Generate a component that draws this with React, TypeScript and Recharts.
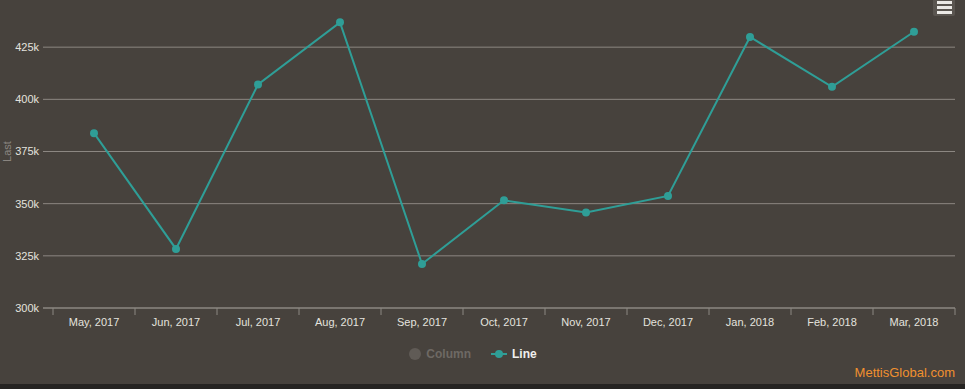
import { ComposedChart, Line, XAxis, YAxis, CartesianGrid, Legend } from 'recharts';

const months = ['May, 2017', 'Jun, 2017', 'Jul, 2017', 'Aug, 2017', 'Sep, 2017', 'Oct, 2017', 'Nov, 2017', 'Dec, 2017', 'Jan, 2018', 'Feb, 2018', 'Mar, 2018'];
const lastValues = [383800, 328300, 407100, 436900, 321100, 351600, 345800, 353700, 429900, 406000, 432400];
const yTicks = [300000, 325000, 350000, 375000, 400000, 425000, 450000];
const legendItems = [
    { name: 'Column', active: false },
    { name: 'Line', active: true },
];

const data = months.map((month, i) => ({ month, last: lastValues[i] }));

const CHART_W = 965;
const CHART_H = 424;
const Y_W = 43;
const RIGHT = 10;
const PAD_LEFT = 10;
const BAND = (CHART_W - Y_W - RIGHT - PAD_LEFT) / months.length;

const BG = '#47423d';
const GRID = '#8c8782';
const TEAL = '#2f9e97';
const LABEL = '#e4e2df';

const MonthTick = (props: any) => {
    const { x, y, payload, index } = props;
    return (
        <g>
            <line x1={x - BAND / 2} x2={x - BAND / 2} y1={y} y2={y + 7} stroke={GRID} />
            {index === months.length - 1 && (
                <line x1={x + BAND / 2} x2={x + BAND / 2} y1={y} y2={y + 7} stroke={GRID} />
            )}
            <text x={x} y={y + 18} textAnchor="middle" fill={LABEL} fontSize={11}>
                {payload.value}
            </text>
        </g>
    );
};

const AxisTitle = (props: any) => {
    const { viewBox } = props;
    const cy = viewBox.y + viewBox.height / 2;
    return (
        <text x={7} y={cy} transform={`rotate(-90 7 ${cy})`} textAnchor="middle" dominantBaseline="central" fill="#8a8580" fontSize={11}>
            Last
        </text>
    );
};

const renderLegend = () => (
    <div style={{ display: 'flex', justifyContent: 'center', alignItems: 'center', height: 30, gap: 20, fontWeight: 'bold', fontSize: 12, marginLeft: -9, marginTop: 1 }}>
        {legendItems.map((item) => (
            <div key={item.name} style={{ display: 'flex', alignItems: 'center', gap: 5, color: item.active ? '#f0efed' : '#6e6964' }}>
                {item.active ? (
                    <svg width={16} height={10}>
                        <line x1={0} x2={16} y1={5} y2={5} stroke={TEAL} strokeWidth={2} />
                        <circle cx={8} cy={5} r={4} fill={TEAL} />
                    </svg>
                ) : (
                    <svg width={12} height={12}>
                        <circle cx={6} cy={6} r={6} fill="#605b56" />
                    </svg>
                )}
                <span>{item.name}</span>
            </div>
        ))}
    </div>
);

export default function App() {
    return (
        <div style={{ position: 'fixed', inset: 0, background: '#262422', overflow: 'hidden', fontFamily: '"Liberation Sans", Arial, sans-serif' }}>
            <div style={{ position: 'absolute', left: 0, top: -40, width: CHART_W, height: CHART_H, background: BG }}>
                <ComposedChart width={CHART_W} height={CHART_H} data={data} margin={{ top: 35, right: RIGHT, left: 0, bottom: 16 }}>
                    <CartesianGrid vertical={false} stroke={GRID} />
                    <XAxis
                        dataKey="month"
                        scale="band"
                        interval={0}
                        padding={{ left: PAD_LEFT, right: 0 }}
                        height={30}
                        axisLine={{ stroke: GRID }}
                        tickLine={false}
                        tickSize={0}
                        tickMargin={0}
                        tick={<MonthTick />}
                    />
                    <YAxis
                        width={Y_W}
                        domain={[300000, 450000]}
                        ticks={yTicks}
                        axisLine={false}
                        tickLine={false}
                        tickSize={0}
                        tickMargin={4}
                        tick={{ fill: LABEL, fontSize: 11 }}
                        tickFormatter={(v) => `${Number(v) / 1000}k`}
                        label={<AxisTitle />}
                    />
                    <Legend verticalAlign="bottom" height={30} content={renderLegend} />
                    <Line
                        dataKey="last"
                        name="Line"
                        stroke={TEAL}
                        strokeWidth={2}
                        dot={{ r: 4, fill: TEAL, stroke: 'none' }}
                        activeDot={false}
                        isAnimationActive={false}
                    />
                </ComposedChart>
                <div style={{ position: 'absolute', left: 933, top: 30, width: 22, height: 26, background: '#5a5550', borderRadius: 2 }}>
                    {[0, 1, 2].map((i) => (
                        <div key={i} style={{ position: 'absolute', left: 4, top: 11 + i * 5, width: 15, height: 2.5, background: '#ebe9e6' }} />
                    ))}
                </div>
                <div style={{ position: 'absolute', right: 10, top: 405, fontSize: 13, color: '#f0902f' }}>MettisGlobal.com</div>
            </div>
        </div>
    );
}
